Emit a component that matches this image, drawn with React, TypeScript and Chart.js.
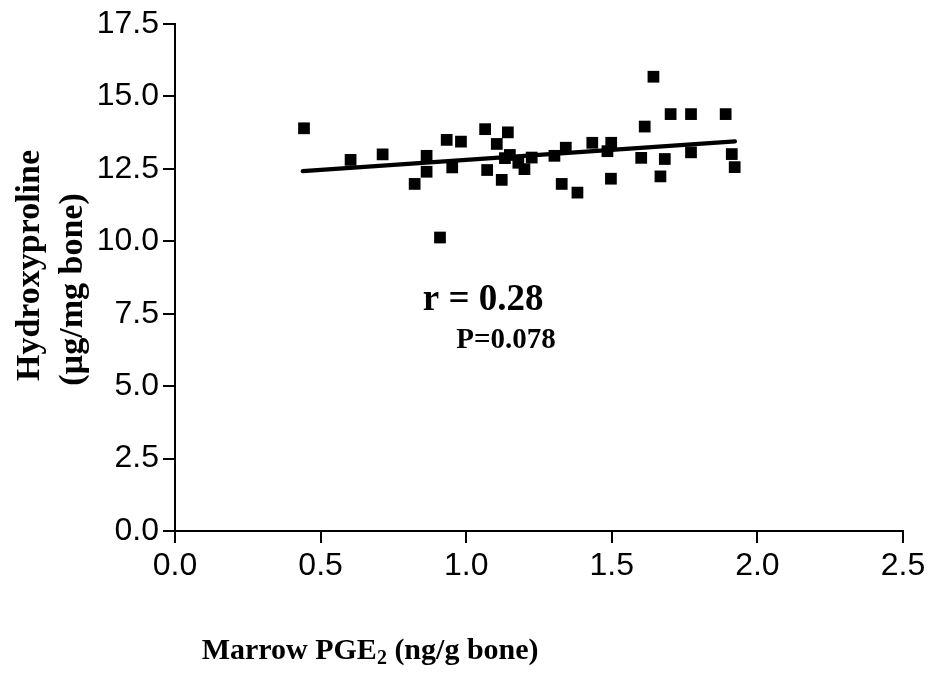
import React, { useEffect, useRef } from 'react';
import { Chart, registerables } from 'chart.js';

Chart.register(...registerables);

// Marrow PGE2 (ng/g bone)
const pgeValues = [
  0.443, 0.603, 0.713, 0.823, 0.864, 0.864, 0.910, 0.933, 0.952, 0.982,
  1.065, 1.072, 1.105, 1.122, 1.133, 1.143, 1.150, 1.179, 1.200, 1.225,
  1.303, 1.342, 1.328, 1.382, 1.433, 1.485, 1.498, 1.497, 1.601, 1.613,
  1.643, 1.667, 1.682, 1.702, 1.772, 1.772, 1.891, 1.912, 1.922,
];
// Hydroxyproline (µg/mg bone)
const hypValues = [
  13.90, 12.81, 13.00, 11.98, 12.95, 12.40, 10.13, 13.50, 12.55, 13.44,
  13.87, 12.46, 13.36, 12.12, 12.87, 13.76, 12.98, 12.71, 12.49, 12.89,
  12.95, 13.23, 11.98, 11.68, 13.40, 13.11, 13.40, 12.16, 12.88, 13.96,
  15.68, 12.24, 12.84, 14.39, 14.39, 13.07, 14.39, 13.01, 12.56,
];
// regression line end points
const fitX = [0.4385, 1.923];
const fitY = [12.42, 13.45];

const xMin = 0;
const xMax = 2.5;
const xStep = 0.5;
const yMin = 0;
const yMax = 17.5;
const yStep = 2.5;

const yTitleLines = ['Hydroxyproline', '(µg/mg bone)'];
const xTitleMain = 'Marrow PGE';
const xTitleSub = '2';
const xTitleRest = ' (ng/g bone)';
const rLabel = 'r = 0.28';
const pLabel = 'P=0.078';
const rLabelAt = [1.058, 7.97];
const pLabelAt = [1.137, 6.56];

const SERIF = '"Liberation Serif", "Times New Roman", Times, serif';
const SANS = '"Liberation Sans", Arial, Helvetica, sans-serif';

const textPlugin = {
  id: 'customText',
  afterDraw(chart: any) {
    const ctx = chart.ctx as CanvasRenderingContext2D;
    const area = chart.chartArea;
    const xs = chart.scales.x;
    const ys = chart.scales.y;
    ctx.save();
    ctx.fillStyle = '#000';

    // y-axis title (rotated)
    ctx.font = `bold 34px ${SERIF}`;
    ctx.textAlign = 'center';
    ctx.textBaseline = 'middle';
    const midY = (area.top + area.bottom) / 2;
    const lineX = [30, 73];
    const lineShift = [-12, 12];
    yTitleLines.forEach((t, i) => {
      ctx.save();
      ctx.translate(lineX[i], midY + lineShift[i]);
      ctx.rotate(-Math.PI / 2);
      ctx.fillText(t, 0, 0);
      ctx.restore();
    });

    // x-axis title
    const mainFont = `bold 30px ${SERIF}`;
    const subFont = `bold 20px ${SERIF}`;
    ctx.textAlign = 'left';
    ctx.textBaseline = 'alphabetic';
    ctx.font = mainFont;
    const w1 = ctx.measureText(xTitleMain).width;
    const w3 = ctx.measureText(xTitleRest).width;
    ctx.font = subFont;
    const w2 = ctx.measureText(xTitleSub).width;
    const total = w1 + w2 + w3;
    const cx = area.left + 0.268 * (area.right - area.left);
    const baseY = area.bottom + 128;
    let x0 = cx - total / 2;
    ctx.font = mainFont;
    ctx.fillText(xTitleMain, x0, baseY);
    x0 += w1;
    ctx.font = subFont;
    ctx.fillText(xTitleSub, x0, baseY + 5);
    x0 += w2;
    ctx.font = mainFont;
    ctx.fillText(xTitleRest, x0, baseY);

    // annotations
    ctx.textAlign = 'center';
    ctx.textBaseline = 'middle';
    ctx.font = `bold 37px ${SERIF}`;
    ctx.fillText(rLabel, xs.getPixelForValue(rLabelAt[0]), ys.getPixelForValue(rLabelAt[1]));
    ctx.font = `bold 29px ${SERIF}`;
    ctx.fillText(pLabel, xs.getPixelForValue(pLabelAt[0]), ys.getPixelForValue(pLabelAt[1]));
    ctx.restore();
  },
};

export default function App() {
  const ref = useRef<HTMLCanvasElement | null>(null);

  useEffect(() => {
    document.body.style.margin = '0';
    const canvas = ref.current;
    if (!canvas) return;
    const points = pgeValues.map((x, i) => ({ x, y: hypValues[i] }));
    const fit = fitX.map((x, i) => ({ x, y: fitY[i] }));

    const tickFont = { family: SANS, size: 32 };

    const chart = new Chart(canvas, {
      type: 'scatter',
      data: {
        datasets: [
          {
            type: 'scatter',
            data: points,
            pointStyle: 'rect',
            pointRadius: 8.3,
            pointHoverRadius: 8.3,
            backgroundColor: '#000',
            borderColor: '#000',
            borderWidth: 0,
          } as any,
          {
            type: 'line',
            data: fit,
            borderColor: '#000',
            borderWidth: 4.2,
            borderCapStyle: 'round',
            pointRadius: 0,
            fill: false,
            tension: 0,
          } as any,
        ],
      },
      options: {
        animation: false,
        responsive: false,
        maintainAspectRatio: false,
        devicePixelRatio: 1,
        layout: { padding: { top: 24, right: 30, left: 0, bottom: 0 } },
        plugins: {
          legend: { display: false },
          tooltip: { enabled: false },
          title: { display: false },
        },
        scales: {
          x: {
            type: 'linear',
            min: xMin,
            max: xMax,
            grid: {
              display: true,
              drawOnChartArea: false,
              drawTicks: true,
              tickLength: 12,
              color: '#000',
              lineWidth: 2,
            },
            border: { display: true, color: '#000', width: 2 },
            ticks: {
              stepSize: xStep,
              color: '#000',
              font: tickFont,
              padding: 4,
              maxRotation: 0,
              callback: (v: any) => Number(v).toFixed(1),
            },
            afterFit: (s: any) => {
              s.height = 165;
              s.paddingLeft = 0;
              s.paddingRight = 0;
            },
          },
          y: {
            type: 'linear',
            min: yMin,
            max: yMax,
            grid: {
              display: true,
              drawOnChartArea: false,
              drawTicks: true,
              tickLength: 12,
              color: '#000',
              lineWidth: 2,
            },
            border: { display: true, color: '#000', width: 2 },
            ticks: {
              stepSize: yStep,
              color: '#000',
              font: tickFont,
              padding: 4,
              callback: (v: any) => Number(v).toFixed(1),
            },
            afterFit: (s: any) => {
              s.width = 175;
              s.paddingTop = 0;
              s.paddingBottom = 0;
            },
          },
        },
      },
      plugins: [textPlugin],
    });
    return () => chart.destroy();
  }, []);

  return (
    <div style={{ width: 933, height: 696 }}>
      <canvas ref={ref} width={933} height={696} style={{ display: 'block', width: 933, height: 696 }} />
    </div>
  );
}
